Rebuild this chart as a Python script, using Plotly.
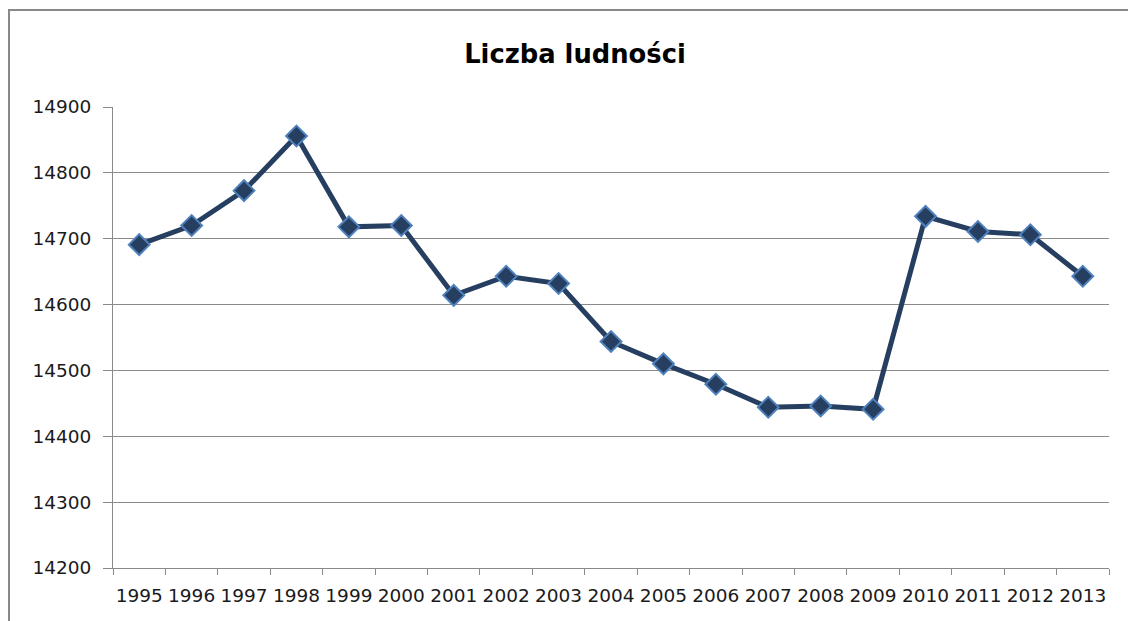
import plotly.graph_objects as go

years = ["1995", "1996", "1997", "1998", "1999", "2000", "2001", "2002", "2003", "2004",
         "2005", "2006", "2007", "2008", "2009", "2010", "2011", "2012", "2013"]
population = [14691, 14720, 14773, 14856, 14718, 14720, 14614, 14643, 14632, 14544,
              14510, 14479, 14444, 14446, 14441, 14734, 14711, 14706, 14643]
y_ticks = [14200, 14300, 14400, 14500, 14600, 14700, 14800, 14900]
title_text = "Liczba ludności"

W, H = 1128, 621
L, R, T, B = 113, 19, 107, 53
pw, ph = W - L - R, H - T - B

fig = go.Figure()
fig.add_trace(go.Scatter(
    x=years, y=population, mode="lines+markers",
    line=dict(color="#263F61", width=5),
    marker=dict(symbol="diamond", size=16, color="#263F61",
                line=dict(color="#4F81BD", width=2)),
    showlegend=False, hoverinfo="x+y",
))

def px_x(x):
    return (x - L) / pw

def px_y(y):
    return 1 - (y - T) / ph

fig.add_shape(type="rect", xref="paper", yref="paper",
              x0=px_x(9), x1=px_x(1150), y0=px_y(640), y1=px_y(10),
              line=dict(color="#888888", width=2), fillcolor="rgba(0,0,0,0)", layer="below")

fig.update_layout(
    width=W, height=H,
    margin=dict(l=L, r=R, t=T, b=B, pad=0),
    paper_bgcolor="white", plot_bgcolor="white",
    font=dict(family="DejaVu Sans", size=18.5, color="#1a1a1a"),
    title=dict(text="<b>" + title_text + "</b>", x=575 / W, xanchor="center",
               xref="container", yref="container", y=1 - 54 / H, yanchor="middle",
               font=dict(family="DejaVu Sans", size=25.8, color="#000000")),
    xaxis=dict(type="category", showgrid=False, showline=True, linecolor="#8a8a8a",
               linewidth=1, ticks="outside", tickson="boundaries", ticklen=6,
               tickcolor="#8a8a8a", tickfont=dict(size=18.5), tickangle=0, zeroline=False,
               ticklabelstandoff=11,
               range=[-0.5, len(years) - 0.5], fixedrange=True),
    yaxis=dict(range=[14200, 14900], tickvals=y_ticks, ticktext=[str(v) for v in y_ticks],
               showgrid=True, gridcolor="#8a8a8a", gridwidth=1, showline=True,
               linecolor="#8a8a8a", linewidth=1, ticks="outside", ticklen=9,
               tickcolor="#8a8a8a", ticklabelstandoff=8, zeroline=False,
               tickfont=dict(size=18.5), fixedrange=True),
)

fig.write_html("out.html", config={"displayModeBar": False},
               post_script="document.body.style.margin='0';document.body.style.overflow='hidden';")
